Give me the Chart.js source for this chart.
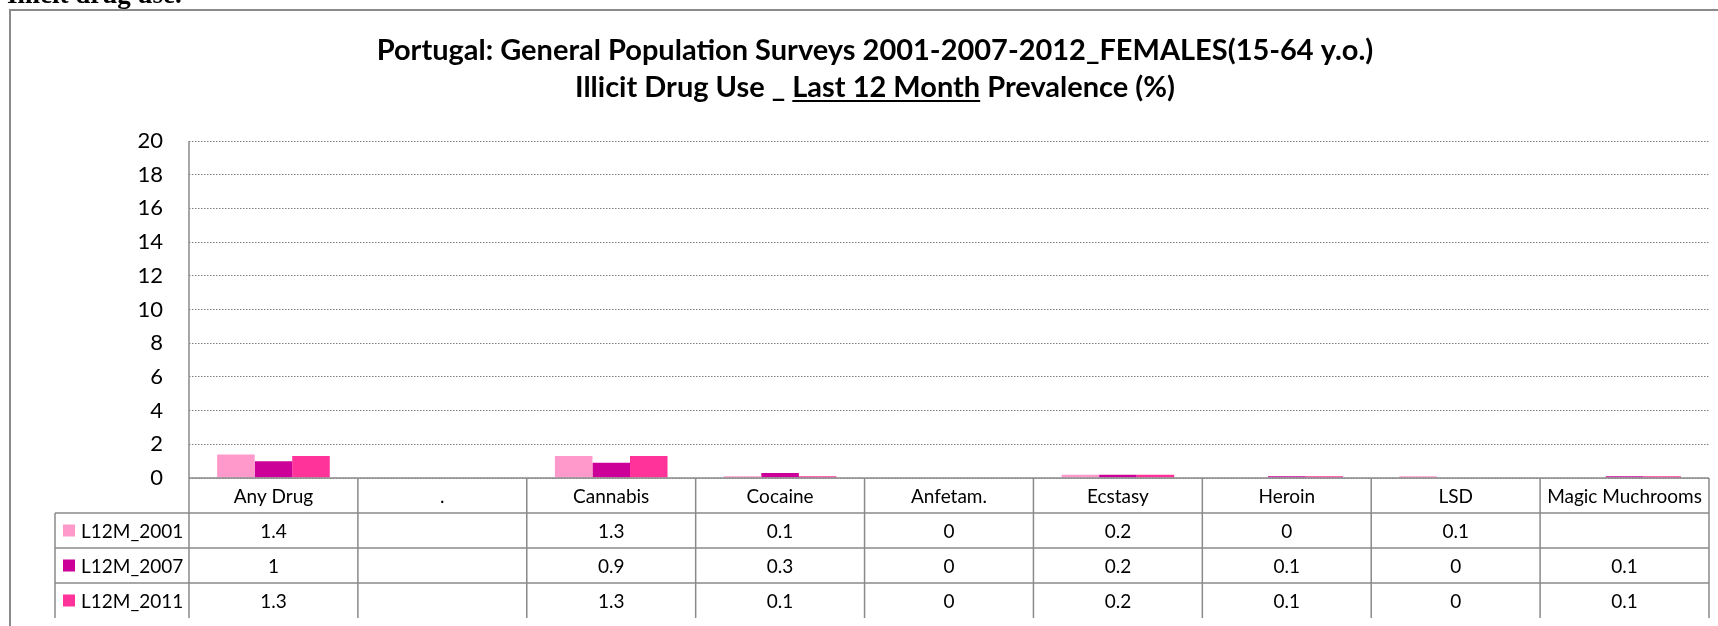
<!DOCTYPE html>
<html>
<head>
<meta charset="utf-8">
<script src="https://cdn.jsdelivr.net/npm/chart.js@4.4.0/dist/chart.umd.min.js"></script>
<style>
html, body { margin: 0; padding: 0; background: #fff; overflow: hidden; }
#wrap { position: absolute; left: 0; top: 0; width: 1718px; height: 626px; }
#heading { position: absolute; left: 7px; top: -19px; font: bold 27px "Liberation Serif", serif; line-height: 27px; white-space: nowrap; color: #000; }
</style>
</head>
<body>
<div id="wrap"><canvas id="mycanvas" width="1718" height="626"></canvas></div>
<div id="heading">Illicit drug use.</div>
<script>
var categories = ['Any Drug', '.', 'Cannabis', 'Cocaine', 'Anfetam.', 'Ecstasy', 'Heroin', 'LSD', 'Magic Muchrooms'];
var seriesNames = ['L12M_2001', 'L12M_2007', 'L12M_2011'];
var l12m2001 = [1.4, null, 1.3, 0.1, 0, 0.2, 0, 0.1, null];
var l12m2007 = [1, null, 0.9, 0.3, 0, 0.2, 0.1, 0, 0.1];
var l12m2011 = [1.3, null, 1.3, 0.1, 0, 0.2, 0.1, 0, 0.1];
var yTicks = [0, 2, 4, 6, 8, 10, 12, 14, 16, 18, 20];
var titleLine1 = 'Portugal: General Population Surveys 2001-2007-2012_FEMALES(15-64 y.o.)';
var titleLine2 = ['Illicit Drug Use _ ', 'Last 12 Month', ' Prevalence (%)'];

var colors = ['#FF99CC', '#CC0099', '#FF3399'];
var lineGray = '#8a8a8a';

// title, frame and data table drawn on top of the chart
var extras = {
	id: 'extras',
	afterDraw: function(chart) {
		var ctx = chart.ctx;
		var area = chart.chartArea;
		var xs = chart.scales.x;
		var n = categories.length;
		var colW = (area.right - area.left) / n;

		ctx.save();

		// outer frame
		ctx.strokeStyle = lineGray;
		ctx.lineWidth = 2;
		ctx.strokeRect(10, 10, 1760, 660);

		// title
		ctx.fillStyle = '#000';
		ctx.font = 'bold 27px Lato';
		var fs = 27 * 997 / ctx.measureText(titleLine1).width;
		ctx.font = 'bold ' + fs.toFixed(2) + 'px Lato';
		ctx.textBaseline = 'alphabetic';
		ctx.textAlign = 'center';
		ctx.fillText(titleLine1, 875, 60);
		ctx.textAlign = 'left';
		var total = 0;
		titleLine2.forEach(function(t) { total += ctx.measureText(t).width; });
		var tx = 875 - total / 2;
		titleLine2.forEach(function(t, i) {
			var w = ctx.measureText(t).width;
			ctx.fillText(t, tx, 97);
			if (i === 1) {
				ctx.fillRect(tx, 100, w, 2);
			}
			tx += w;
		});

		// y axis line
		ctx.strokeStyle = lineGray;
		ctx.lineWidth = 1.5;
		ctx.beginPath();
		ctx.moveTo(area.left, area.top);
		ctx.lineTo(area.left, area.bottom);
		ctx.stroke();

		// data table
		var rowH = 35;
		var top = area.bottom;
		var legLeft = 55;
		var rows = [l12m2001, l12m2007, l12m2011];
		ctx.beginPath();
		ctx.moveTo(area.left, top);
		ctx.lineTo(area.right, top);
		for (var r = 1; r <= 3; r++) {
			ctx.moveTo(legLeft, top + rowH * r);
			ctx.lineTo(area.right, top + rowH * r);
		}
		ctx.moveTo(legLeft, top + rowH);
		ctx.lineTo(legLeft, top + rowH * 4);
		for (var c = 0; c <= n; c++) {
			var vx = area.left + colW * c;
			ctx.moveTo(vx, top);
			ctx.lineTo(vx, top + rowH * 4);
		}
		ctx.stroke();

		ctx.font = '19px Lato';
		ctx.textBaseline = 'middle';
		ctx.textAlign = 'center';
		ctx.fillStyle = '#000';
		for (var i = 0; i < n; i++) {
			var cx = xs.getPixelForValue(i);
			ctx.fillText(categories[i], cx, top + rowH / 2 + 1);
			for (var k = 0; k < rows.length; k++) {
				var v = rows[k][i];
				if (v !== null) {
					ctx.fillText(String(v), cx, top + rowH * (k + 1.5) + 1);
				}
			}
		}
		ctx.textAlign = 'left';
		for (var s = 0; s < seriesNames.length; s++) {
			var cy = top + rowH * (s + 1.5);
			ctx.fillStyle = colors[s];
			ctx.fillRect(63, cy - 6, 12, 12);
			ctx.fillStyle = '#000';
			ctx.fillText(seriesNames[s], 81, cy + 1);
		}

		ctx.restore();
	}
};

var chartdata = {
	labels: categories,
	datasets: [
		{ label: seriesNames[0], data: l12m2001, backgroundColor: colors[0] },
		{ label: seriesNames[1], data: l12m2007, backgroundColor: colors[1] },
		{ label: seriesNames[2], data: l12m2011, backgroundColor: colors[2] }
	]
};

var ctx = document.getElementById('mycanvas');

var barGraph = new Chart(ctx, {
	type: 'bar',
	data: chartdata,
	plugins: [extras],
	options: {
		responsive: false,
		devicePixelRatio: 1,
		animation: false,
		layout: { padding: { top: 141, bottom: 148, left: 0, right: 9 } },
		datasets: { bar: { categoryPercentage: 0.667, barPercentage: 1 } },
		plugins: {
			legend: { display: false },
			title: { display: false },
			tooltip: { enabled: false }
		},
		scales: {
			x: { display: false },
			y: {
				min: 0,
				max: 20,
				afterBuildTicks: function(scale) {
					scale.ticks = yTicks.map(function(v) { return { value: v }; });
				},
				afterFit: function(scale) { scale.width = 189; },
				border: { display: false, dash: [1.5, 1.5] },
				grid: { color: '#7f7f7f', lineWidth: 1, drawTicks: false },
				ticks: {
					padding: 26,
					color: '#000',
					font: { family: 'Lato', size: 22 }
				}
			}
		}
	}
});
</script>
</body>
</html>
